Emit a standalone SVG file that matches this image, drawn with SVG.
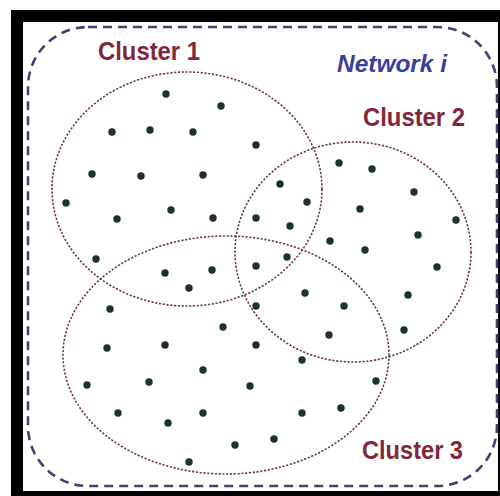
<svg xmlns="http://www.w3.org/2000/svg" width="500" height="496" viewBox="0 0 500 496">
<style>
.lbl{font-family:"Liberation Sans",Arial,sans-serif;font-weight:bold;font-size:25px;fill:#80283a}
.net{font-family:"Liberation Sans",Arial,sans-serif;font-weight:bold;font-style:italic;font-size:23px;fill:#3a3e9c}
.cl{fill:none;stroke:#6e3a3a;stroke-width:1.6;stroke-dasharray:2.2 1.6}
.dot{fill:#1d3326}
</style>
<rect x="11" y="10" width="489" height="486" fill="#000"/>
<rect x="23" y="22" width="475" height="469" fill="#fff"/>
<g id="network">
<rect x="28" y="27" width="469" height="459" rx="60" ry="60" fill="none" stroke="#3d4570" stroke-width="2.6" stroke-dasharray="9 6"/>
<text class="net" x="337" y="72" textLength="110" lengthAdjust="spacingAndGlyphs">Network i</text>
</g>
<g id="cluster1">
<ellipse class="cl" cx="187" cy="189" rx="135" ry="117"/>
<text class="lbl" x="98" y="60" textLength="102" lengthAdjust="spacingAndGlyphs">Cluster 1</text>
</g>
<g id="cluster2">
<ellipse class="cl" cx="353" cy="252" rx="118" ry="110"/>
<text class="lbl" x="363" y="126" textLength="102" lengthAdjust="spacingAndGlyphs">Cluster 2</text>
</g>
<g id="cluster3">
<ellipse class="cl" cx="226" cy="355" rx="163" ry="119"/>
<text class="lbl" x="362" y="459" textLength="101" lengthAdjust="spacingAndGlyphs">Cluster 3</text>
</g>
<g id="nodes" class="dot">
<circle cx="166" cy="94" r="3.7"/><circle cx="221" cy="106" r="3.7"/><circle cx="112" cy="132" r="3.7"/><circle cx="150" cy="130" r="3.7"/><circle cx="193" cy="132" r="3.7"/><circle cx="92" cy="174" r="3.7"/><circle cx="141" cy="176" r="3.7"/><circle cx="203" cy="175" r="3.7"/><circle cx="66" cy="203" r="3.7"/><circle cx="117" cy="219" r="3.7"/><circle cx="171" cy="210" r="3.7"/><circle cx="213" cy="218" r="3.7"/>
<circle cx="256" cy="145" r="3.7"/><circle cx="339" cy="163" r="3.7"/><circle cx="372" cy="169" r="3.7"/><circle cx="280" cy="184" r="3.7"/><circle cx="414" cy="192" r="3.7"/><circle cx="307" cy="202" r="3.7"/><circle cx="360" cy="209" r="3.7"/><circle cx="256" cy="218" r="3.7"/><circle cx="290" cy="226" r="3.7"/><circle cx="456" cy="220" r="3.7"/><circle cx="418" cy="235" r="3.7"/><circle cx="330" cy="241" r="3.7"/><circle cx="365" cy="250" r="3.7"/>
<circle cx="96" cy="259" r="3.7"/><circle cx="165" cy="273" r="3.7"/><circle cx="212" cy="270" r="3.7"/><circle cx="189" cy="288" r="3.7"/><circle cx="110" cy="309" r="3.7"/><circle cx="223" cy="327" r="3.7"/><circle cx="107" cy="348" r="3.7"/><circle cx="165" cy="345" r="3.7"/><circle cx="203" cy="370" r="3.7"/><circle cx="87" cy="385" r="3.7"/><circle cx="149" cy="382" r="3.7"/><circle cx="250" cy="386" r="3.7"/><circle cx="118" cy="413" r="3.7"/><circle cx="203" cy="413" r="3.7"/><circle cx="168" cy="423" r="3.7"/><circle cx="235" cy="445" r="3.7"/><circle cx="189" cy="462" r="3.7"/>
<circle cx="437" cy="267" r="3.7"/><circle cx="287" cy="257" r="3.7"/><circle cx="256" cy="266" r="3.7"/><circle cx="305" cy="293" r="3.7"/><circle cx="344" cy="306" r="3.7"/><circle cx="256" cy="306" r="3.7"/><circle cx="408" cy="295" r="3.7"/><circle cx="329" cy="335" r="3.7"/><circle cx="404" cy="330" r="3.7"/><circle cx="256" cy="345" r="3.7"/><circle cx="302" cy="360" r="3.7"/><circle cx="376" cy="381" r="3.7"/><circle cx="302" cy="413" r="3.7"/><circle cx="341" cy="408" r="3.7"/><circle cx="274" cy="439" r="3.7"/>
</g>
</svg>
